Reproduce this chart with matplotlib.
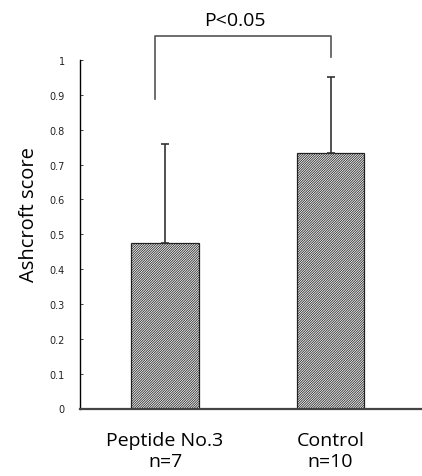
import matplotlib
matplotlib.use("Agg")
import matplotlib.pyplot as plt

groups = ["Peptide No.3\nn=7", "Control\nn=10"]
means = [0.475, 0.734]
errors = [0.285, 0.218]
y_ticks = [0, 0.1, 0.2, 0.3, 0.4, 0.5, 0.6, 0.7, 0.8, 0.9, 1]
tick_labels = ["0", "0.1", "0.2", "0.3", "0.4", "0.5", "0.6", "0.7", "0.8", "0.9", "1"]

plt.rcParams["hatch.linewidth"] = 0.55
plt.rcParams["hatch.color"] = "#222222"

fig = plt.figure(figsize=(4.22, 4.77), dpi=100)
ax = fig.add_axes([80 / 422, 67.5 / 477, 342 / 422, 348.5 / 477])

x = [0, 1]
ax.bar(x, means, width=0.41, color="#f4f4f4", edgecolor="#222222",
       hatch="/" * 14, linewidth=0.9, zorder=2)

ax.errorbar(x, means, yerr=[[0, 0], errors], fmt="none", ecolor="#333333",
            elinewidth=1.2, capsize=3, capthick=1.2, zorder=3)

ax.set_xlim(-0.514, 1.553)
ax.set_ylim(0, 1)
ax.set_yticks(y_ticks)
ax.set_yticklabels(tick_labels, fontsize=7, family=["Liberation Sans Narrow", "DejaVu Sans"])
ax.tick_params(axis="y", direction="in", length=2, width=0.6, pad=11, colors="#222222")
ax.set_xticks(x)
ax.set_xticklabels(groups, fontsize=14, family=["Open Sans", "DejaVu Sans"], linespacing=1.25)
ax.tick_params(axis="x", length=0, pad=16)

for side in ["top", "right"]:
    ax.spines[side].set_visible(False)
ax.spines["left"].set_linewidth(1.0)
ax.spines["bottom"].set_linewidth(1.6)
ax.spines["bottom"].set_color("#444444")

ax.set_ylabel("Ashcroft score", fontsize=14.5, family=["Open Sans", "DejaVu Sans"])
ax.yaxis.set_label_coords(-0.12, 0.56)

# significance bracket
ax.plot([-0.059, -0.059, 1.0, 1.0], [0.889, 1.07, 1.07, 1.01],
        color="#555555", linewidth=1.2, clip_on=False)
ax.text(0.42, 1.116, "P<0.05", ha="center", va="center", fontsize=14,
        family=["Open Sans", "DejaVu Sans"])

fig.savefig("out.png", dpi=100)
